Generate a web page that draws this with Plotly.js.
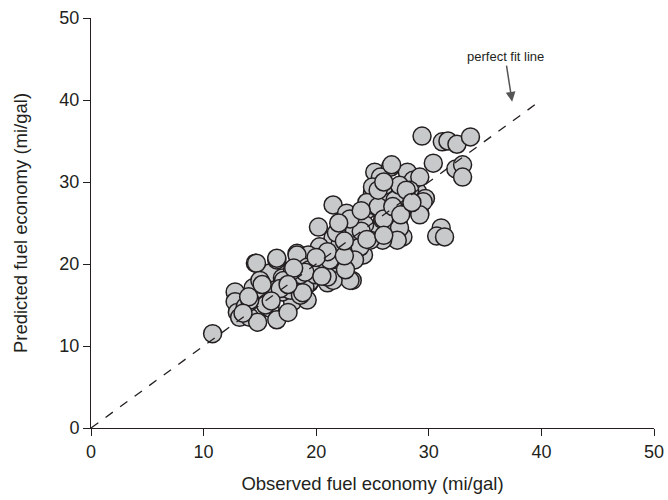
<!DOCTYPE html>
<html>
<head>
<meta charset="utf-8">
<script src="https://cdn.plot.ly/plotly-3.0.1.min.js"></script>
<style>html,body{margin:0;padding:0;background:#fff;}#chart{width:668px;height:500px;}</style>
</head>
<body>
<div id="chart"></div>
<script>
// Observed vs predicted fuel economy (mi/gal)
var observed = [10.8,12.8,12.8,13.0,13.2,13.7,14.1,14.4,14.6,14.8,15.5,15.6,15.9,15.9,16.5,16.5,17.0,17.2,17.9,17.9,17.5,18.3,19.2,19.2,19.4,19.7,20.5,21.0,21.5,22.1,23.0,23.2,20.3,21.8,21.5,22.7,20.2,23.6,25.0,25.0,25.2,26.6,28.1,26.4,27.7,29.0,29.7,27.6,29.2,30.4,21.5,23.9,23.0,25.0,26.4,27.3,27.7,24.2,20.6,23.0,21.5,19.4,20.3,28.6,29.2,25.7,25.9,24.5,26.7,25.0,25.0,26.6,27.4,27.2,25.9,23.9,21.8,22.1,19.3,18.3,16.5,14.7,17.9,19.2,21.0,17.1,17.0,19.0,19.4,29.5,29.2,
  29.4,31.2,31.7,32.5,33.7,32.4,33.0,33.0,31.1,30.7,31.4,
  15.0,16.3,17.7,18.6,19.9,20.8,22.6,23.4,24.3,25.7,26.6,27.0,26.1,27.4,28.3,24.8,23.4,22.6,21.2,22.1,18.6,15.5,14.1,
  21.0,21.8,22.5,20.0,19.0,18.0,16.8,15.2,14.0,13.5,16.0,24.0,24.5,25.5,26.0,26.8,27.5,28.0,25.5,23.0,22.0,24.5,26.0,20.5,18.8,17.5,28.5,26.0,24.0,22.5];
var predicted = [11.5,16.6,15.4,14.1,13.5,14.8,13.5,17.1,20.1,12.9,16.5,15.2,14.6,18.9,13.2,20.5,18.3,16.6,18.0,15.4,14.1,21.3,15.6,19.5,17.7,20.2,19.6,17.7,22.6,20.2,22.1,18.0,22.0,18.4,27.2,26.2,24.5,25.4,27.4,28.7,31.2,31.8,31.2,28.7,28.4,28.8,28.0,26.6,26.2,32.3,23.2,23.3,22.0,24.1,24.1,24.8,23.3,21.1,19.6,18.0,18.0,17.8,22.1,30.2,30.6,30.6,25.4,26.6,32.1,29.4,27.2,24.5,24.4,22.9,22.9,22.1,21.3,20.5,21.1,21.1,20.7,20.1,19.3,19.6,18.4,18.0,16.6,17.2,19.3,27.6,26.0,
  35.6,34.9,35.0,34.6,35.5,31.6,32.1,30.6,24.4,23.4,23.3,
  18.0,16.8,16.8,18.7,18.7,21.1,23.5,24.1,24.8,26.6,26.6,27.8,29.6,29.6,29.0,22.9,20.5,19.3,20.5,22.3,16.2,15.0,15.6,
  21.5,23.8,21.0,20.8,19.0,19.5,17.0,17.5,16.0,14.0,15.5,24.0,27.5,27.0,25.5,27.0,26.0,29.0,29.0,25.5,25.0,23.0,23.5,18.5,16.5,17.5,27.5,30.0,26.5,22.8];
var fitX = [0, 40];
var fitY = [0, 40];
var tickVals = [0, 10, 20, 30, 40, 50];

var ink = '#231f20';
var fam = 'Liberation Sans, Arial, sans-serif';
var traces = [
  {type:'scatter', mode:'markers', x:observed, y:predicted,
   marker:{size:18, color:'#c8c9cb', line:{color:ink, width:1.5}},
   hoverinfo:'x+y', showlegend:false, cliponaxis:false},
  {type:'scatter', mode:'lines', x:fitX, y:fitY,
   line:{color:ink, width:1.3, dash:'dash'}, showlegend:false, hoverinfo:'skip'}
];
var axisFont = {family:fam, size:18, color:ink};
var layout = {
  width:668, height:500,
  margin:{l:91, r:14, t:18, b:72},
  paper_bgcolor:'#fff', plot_bgcolor:'#fff',
  font:{family:fam, color:ink},
  xaxis:{range:[0,50], tickvals:tickVals, ticks:'outside', ticklen:7, tickcolor:ink, tickwidth:1,
    showline:true, linecolor:ink, linewidth:1, showgrid:false, zeroline:false, tickfont:axisFont,
    title:{text:'Observed fuel economy (mi/gal)', font:{family:fam, size:18.5, color:ink}, standoff:16}},
  yaxis:{range:[0,50], tickvals:tickVals, ticks:'outside', ticklen:7, tickcolor:ink, tickwidth:1,
    showline:true, linecolor:ink, linewidth:1, showgrid:false, zeroline:false, tickfont:axisFont,
    title:{text:'Predicted fuel economy (mi/gal)', font:{family:fam, size:18.5, color:ink}, standoff:26}},
  annotations:[{x:37.4, y:39.8, xref:'x', yref:'y', text:'perfect fit line', showarrow:true,
    ax:-7, ay:-45, arrowhead:2, arrowsize:1.3, arrowwidth:1.5, arrowcolor:'#555',
    font:{family:fam, size:13, color:ink}}]
};
Plotly.newPlot('chart', traces, layout, {displayModeBar:false, staticPlot:true});
</script>
</body>
</html>
